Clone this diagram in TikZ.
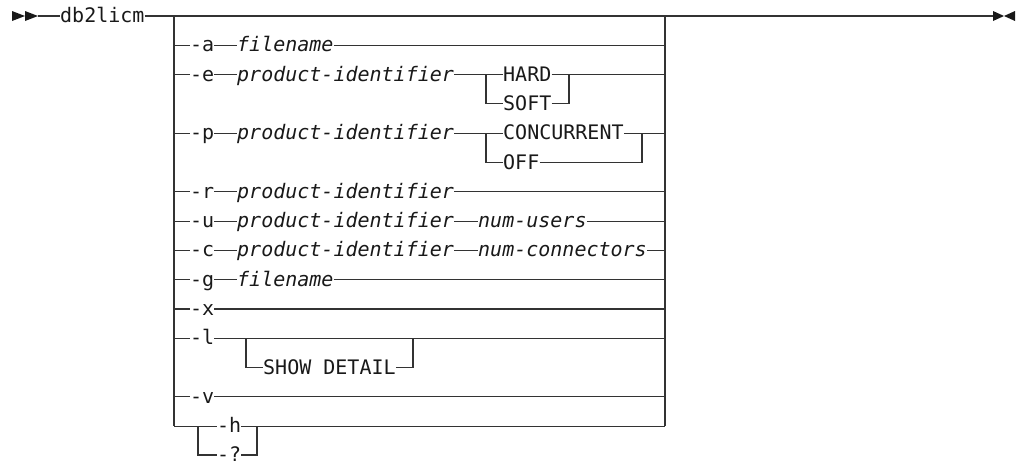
\documentclass[tikz,border=0pt]{standalone}
\usepackage{fontspec}
\setmonofont{DejaVu Sans Mono}
\begin{document}
\begin{tikzpicture}[x=1pt,y=-1pt,
  lbl/.style={anchor=west, inner sep=0pt, text height=13pt, text depth=0pt,
    font=\ttfamily\fontsize{20}{20}\selectfont, text=black!90},
  var/.style={lbl, font=\ttfamily\itshape\fontsize{20}{20}\selectfont},
  rr/.style={line width=1.1pt, draw=black!80, line join=miter},
  tip/.style={fill=black!90}]
\useasboundingbox (0,0) rectangle (1021,463);
\foreach \i/\y in {0/16,1/45.3,2/74.6,3/103.9,4/133.2,5/162.5,6/191.8,7/221.1,8/250.4,9/279.7,10/309,11/338.3,12/367.6,13/396.9,14/426.2,15/455}{
  \coordinate (L\i) at (174,\y);
  \coordinate (R\i) at (665,\y);
}
% start and end
\coordinate (s) at (38,16);
\coordinate (e) at (993,16);
\fill[tip] (12,11) -- (25,16) -- (12,21) -- cycle;
\fill[tip] (25,11) -- (38,16) -- (25,21) -- cycle;
\fill[tip] (993,11) -- (1004,16) -- (993,21) -- cycle;
\fill[tip] (1015,11) -- (1004,16) -- (1015,21) -- cycle;
\node[lbl] (db) at (60,16) {db2licm};
\draw[rr] (s) -- (db.west);
\draw[rr] (db.east) -- (e);
% rails
\draw[rr] (L0) -- (L14);
\draw[rr] (R0) -- (R14);
% -a
\node[lbl] (oa) at (190,45.3) {-a};
\node[var] (fa) at (237,45.3) {filename};
\draw[rr] (L1) -- (oa.west) (oa.east) -- (fa.west) (fa.east) -- (R1);
% -e
\node[lbl] (oe) at (190,74.6) {-e};
\node[var] (pe) at (237,74.6) {product-identifier};
\coordinate (eA) at (486,74.6); \coordinate (eB) at (486,103.9);
\coordinate (eC) at (569,74.6); \coordinate (eD) at (569,103.9);
\node[lbl] (hard) at (503,74.6) {HARD};
\node[lbl] (soft) at (503,103.9) {SOFT};
\draw[rr] (L2) -- (oe.west) (oe.east) -- (pe.west) (pe.east) -- (eA) -- (hard.west) (hard.east) -- (eC) -- (R2);
\draw[rr] (eA) -- (eB) -- (soft.west) (soft.east) -- (eD) -- (eC);
% -p
\node[lbl] (op) at (190,133.2) {-p};
\node[var] (pp) at (237,133.2) {product-identifier};
\coordinate (pA) at (486,133.2); \coordinate (pB) at (486,162.5);
\coordinate (pC) at (642,133.2); \coordinate (pD) at (642,162.5);
\node[lbl] (conc) at (503,133.2) {CONCURRENT};
\node[lbl] (off) at (503,162.5) {OFF};
\draw[rr] (L4) -- (op.west) (op.east) -- (pp.west) (pp.east) -- (pA) -- (conc.west) (conc.east) -- (pC) -- (R4);
\draw[rr] (pA) -- (pB) -- (off.west) (off.east) -- (pD) -- (pC);
% -r
\node[lbl] (or) at (190,191.8) {-r};
\node[var] (pr) at (237,191.8) {product-identifier};
\draw[rr] (L6) -- (or.west) (or.east) -- (pr.west) (pr.east) -- (R6);
% -u
\node[lbl] (ou) at (190,221.1) {-u};
\node[var] (pu) at (237,221.1) {product-identifier};
\node[var] (nu) at (478,221.1) {num-users};
\draw[rr] (L7) -- (ou.west) (ou.east) -- (pu.west) (pu.east) -- (nu.west) (nu.east) -- (R7);
% -c
\node[lbl] (oc) at (190,250.4) {-c};
\node[var] (pc) at (237,250.4) {product-identifier};
\node[var] (nc) at (478,250.4) {num-connectors};
\draw[rr] (L8) -- (oc.west) (oc.east) -- (pc.west) (pc.east) -- (nc.west) (nc.east) -- (R8);
% -g
\node[lbl] (og) at (190,279.7) {-g};
\node[var] (fg) at (237,279.7) {filename};
\draw[rr] (L9) -- (og.west) (og.east) -- (fg.west) (fg.east) -- (R9);
% -x
\node[lbl] (ox) at (190,309) {-x};
\draw[rr] (L10) -- (ox.west) (ox.east) -- (R10);
% -l
\node[lbl] (ol) at (190,338.3) {-l};
\coordinate (lA) at (246,338.3); \coordinate (lB) at (246,367.6);
\coordinate (lC) at (413,338.3); \coordinate (lD) at (413,367.6);
\node[lbl] (show) at (263,367.6) {SHOW DETAIL};
\draw[rr] (L11) -- (ol.west) (ol.east) -- (R11);
\draw[rr] (lA) -- (lB) -- (show.west) (show.east) -- (lD) -- (lC);
% -v
\node[lbl] (ov) at (190,396.9) {-v};
\draw[rr] (L13) -- (ov.west) (ov.east) -- (R13);
% -h / -?
\coordinate (hA) at (198,426.2); \coordinate (hB) at (198,455);
\coordinate (hC) at (257,426.2); \coordinate (hD) at (257,455);
\node[lbl] (oh) at (217,426.2) {-h};
\node[lbl] (oq) at (217,455) {-?};
\draw[rr] (L14) -- (hA) -- (oh.west) (oh.east) -- (hC) -- (R14);
\draw[rr] (hA) -- (hB) -- (oq.west) (oq.east) -- (hD) -- (hC);
\end{tikzpicture}
\end{document}
